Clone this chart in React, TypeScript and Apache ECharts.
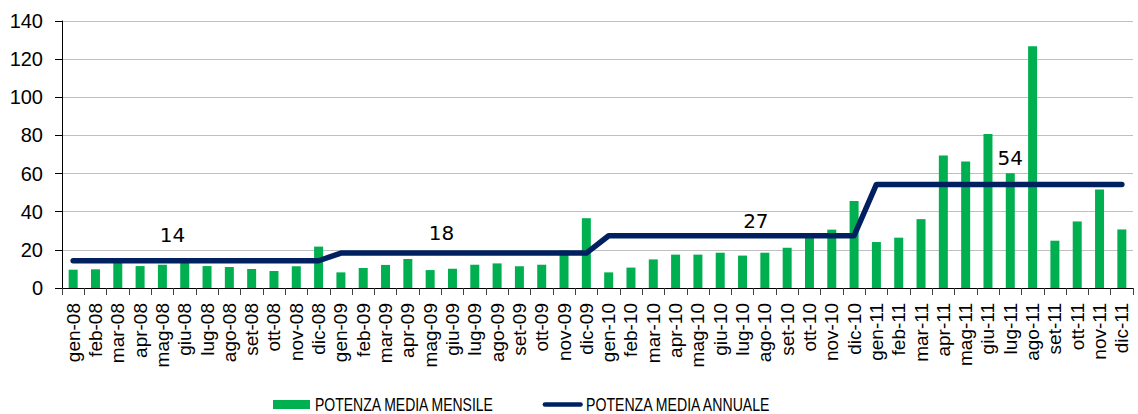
import React, { useEffect, useRef } from "react";
import * as echarts from "echarts";

const categories = [
  "gen-08", "feb-08", "mar-08", "apr-08", "mag-08", "giu-08", "lug-08", "ago-08", "set-08", "ott-08", "nov-08", "dic-08",
  "gen-09", "feb-09", "mar-09", "apr-09", "mag-09", "giu-09", "lug-09", "ago-09", "set-09", "ott-09", "nov-09", "dic-09",
  "gen-10", "feb-10", "mar-10", "apr-10", "mag-10", "giu-10", "lug-10", "ago-10", "set-10", "ott-10", "nov-10", "dic-10",
  "gen-11", "feb-11", "mar-11", "apr-11", "mag-11", "giu-11", "lug-11", "ago-11", "set-11", "ott-11", "nov-11", "dic-11",
];

const monthlyPower = [
  9.6, 9.8, 13.8, 11.5, 12.2, 14.2, 11.5, 11.0, 9.9, 8.9, 11.4, 21.7,
  8.2, 10.5, 12.1, 15.2, 9.4, 10.1, 12.2, 12.9, 11.4, 12.2, 19.6, 36.6,
  8.2, 10.7, 15.0, 17.5, 17.5, 18.5, 17.0, 18.5, 21.1, 26.8, 30.6, 45.6,
  24.1, 26.4, 36.1, 69.5, 66.3, 80.8, 60.2, 126.7, 24.8, 34.9, 51.7, 30.7,
];

const annualPower = [
  14.3, 14.3, 14.3, 14.3, 14.3, 14.3, 14.3, 14.3, 14.3, 14.3, 14.3, 14.3,
  18.3, 18.3, 18.3, 18.3, 18.3, 18.3, 18.3, 18.3, 18.3, 18.3, 18.3, 18.3,
  27.4, 27.4, 27.4, 27.4, 27.4, 27.4, 27.4, 27.4, 27.4, 27.4, 27.4, 27.4,
  54.3, 54.3, 54.3, 54.3, 54.3, 54.3, 54.3, 54.3, 54.3, 54.3, 54.3, 54.3,
];

// index of the point carrying each annual label, its text and its offset from the point
const annualLabelIndex = [4, 17, 31, 42];
const annualLabelText = ["14", "18", "27", "54"];
const annualLabelOffset = [
  [10, -26],
  [-11, -20],
  [-9, -15],
  [0, -26],
];

const yTicks = { min: 0, max: 140, interval: 20 };

const seriesNames = ["POTENZA MEDIA MENSILE", "POTENZA MEDIA ANNUALE"];

const GREEN = "#00B050";
const NAVY = "#002060";

export default function App() {
  const ref = useRef<HTMLDivElement>(null);

  useEffect(() => {
    if (!ref.current) return;
    const chart = echarts.init(ref.current, undefined, { renderer: "svg" });

    const legendFont = "17.5px Arial";
    const legendY = 404.5;

    chart.setOption({
      animation: false,
      backgroundColor: "#ffffff",
      grid: { left: 62, right: 5, top: 21, bottom: 126, containLabel: false },
      legend: { show: false, data: seriesNames },
      graphic: [
        {
          type: "rect",
          shape: { x: 273, y: 400, width: 37, height: 9 },
          style: { fill: GREEN },
          silent: true,
        },
        {
          type: "text",
          x: 315,
          y: legendY,
          scaleX: 0.8,
          style: {
            text: seriesNames[0],
            font: legendFont,
            fill: "#000000",
            align: "left",
            verticalAlign: "middle",
            textAlign: "left",
            textVerticalAlign: "middle",
          },
          silent: true,
        },
        {
          type: "line",
          shape: { x1: 545, y1: legendY, x2: 580.5, y2: legendY },
          style: { stroke: NAVY, lineWidth: 4.7, lineCap: "round" },
          silent: true,
        },
        {
          type: "text",
          x: 586,
          y: legendY,
          scaleX: 0.807,
          style: {
            text: seriesNames[1],
            font: legendFont,
            fill: "#000000",
            align: "left",
            verticalAlign: "middle",
            textAlign: "left",
            textVerticalAlign: "middle",
          },
          silent: true,
        },
      ],
      xAxis: {
        type: "category",
        data: categories,
        boundaryGap: true,
        axisLine: { show: true, lineStyle: { color: "#000000", width: 1 } },
        axisTick: { show: true, interval: 0, length: 7, lineStyle: { color: "#404040" } },
        axisLabel: {
          interval: 0,
          rotate: 90,
          margin: 15,
          fontFamily: "Arial",
          fontSize: 19,
          color: "#000000",
        },
        splitLine: { show: false },
      },
      yAxis: {
        type: "value",
        min: yTicks.min,
        max: yTicks.max,
        interval: yTicks.interval,
        axisLine: { show: true, lineStyle: { color: "#000000", width: 1 } },
        axisTick: { show: true, length: 7, lineStyle: { color: "#000000" } },
        axisLabel: {
          margin: 19,
          fontFamily: "Arial",
          fontSize: 20,
          color: "#000000",
        },
        splitLine: { show: true, lineStyle: { color: "#C0C0C0", width: 1 } },
      },
      series: [
        {
          name: seriesNames[0],
          type: "bar",
          data: monthlyPower,
          barWidth: 9,
          itemStyle: { color: GREEN },
          z: 2,
        },
        {
          name: seriesNames[1],
          type: "line",
          data: annualPower,
          symbol: "none",
          showSymbol: false,
          lineStyle: { color: NAVY, width: 5.5, cap: "round", join: "round" },
          itemStyle: { color: NAVY },
          markPoint: {
            symbol: "circle",
            symbolSize: 0,
            silent: true,
            itemStyle: { color: "transparent" },
            label: {
              show: true,
              fontFamily: "DejaVu Sans",
              fontSize: 20,
              color: "#000000",
              align: "center",
              verticalAlign: "middle",
            },
            data: annualLabelIndex.map((idx, k) => ({
              coord: [idx, annualPower[idx]],
              value: annualLabelText[k],
              label: { position: annualLabelOffset[k], formatter: annualLabelText[k] },
            })),
          },
          z: 3,
        },
      ],
    });

    return () => chart.dispose();
  }, []);

  return (
    <div
      ref={ref}
      style={{ position: "absolute", left: 0, top: 0, width: 1138, height: 414 }}
    />
  );
}
